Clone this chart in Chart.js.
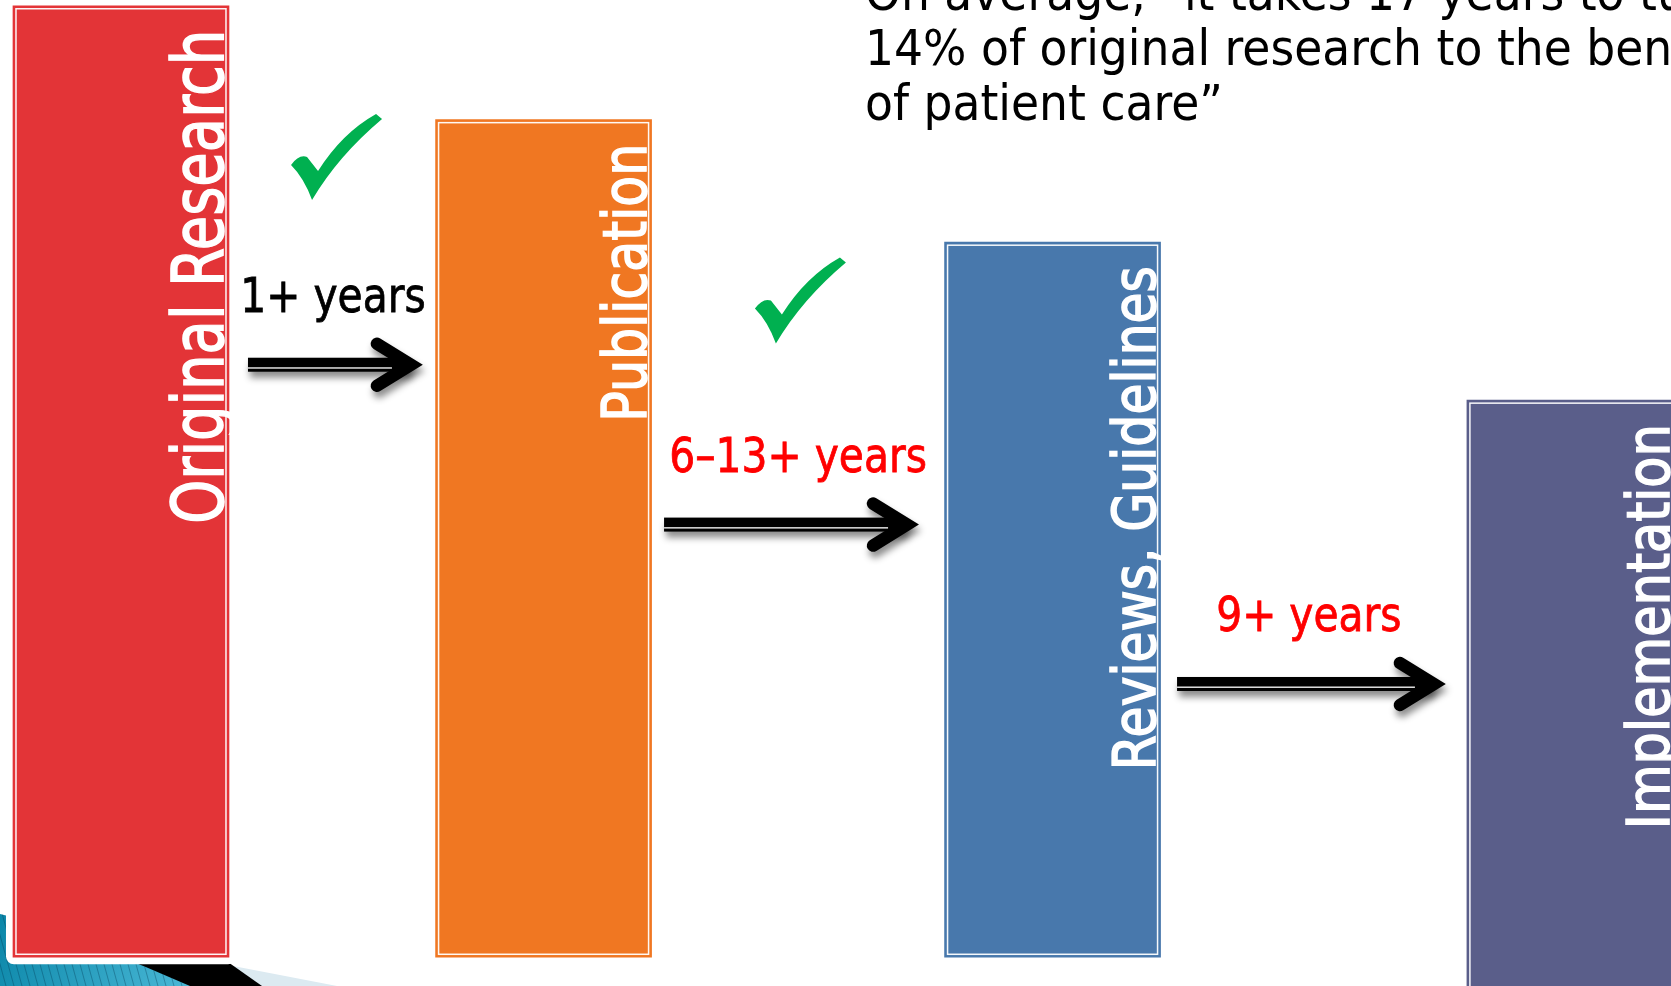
<!DOCTYPE html>
<html>
<head>
    <meta charset="utf-8">
    <title>Research to Practice Timeline</title>
    <script src="https://cdn.jsdelivr.net/npm/chart.js@4.4.0/dist/chart.umd.min.js"></script>
    <style>
        html, body { margin: 0; padding: 0; background: #fff; overflow: hidden; }
        #timeline { display: block; }
    </style>
</head>
<body>
<canvas id="timeline" width="1671" height="986"></canvas>
<script>
// stages of the pipeline, left to right
const stages = ['Original Research', 'Publication', 'Reviews, Guidelines', 'Implementation'];
const stagePos = [7.24, 32.53, 62.99, 94.25];   // % across the slide
const stageHeight = [99.4, 87.5, 74.7, 58.2];
const stageBase = [0, 0, 0, -4];                // last box runs off the bottom

// lag between consecutive stages
const gapLabels = ['1+ years', '6\u201313+ years', '9+ years'];
const gapLabelPos = [19.93, 47.76, 78.33];
const gapFrom = [14.84, 39.74, 70.44];
const gapTo = [25.37, 55.06, 86.59];
const gapLevel = [61.9, 45.2, 28.55];
const checkPos = [20.11, 47.87, null];          // null = no tick
const checkLevel = [83.6, 68.6, null];

const quoteLines = [
    'On average, \u201cit takes 17 years to turn',
    '14% of original research to the benefit',
    'of patient care\u201d'
];

const stageColors = ['#E33437', '#F07722', '#4878AC', '#5A5E8A'];
const gapColors = ['#000000', '#FF0000', '#FF0000'];
const labelSize = [72, 61, 58, 58];
const labelLen = [494, 278, 504, 405];

function boxOf(bar) {
    const p = bar.getProps(['x', 'y', 'base', 'width'], true);
    const top = Math.min(p.y, p.base), bottom = Math.max(p.y, p.base);
    return { left: p.x - p.width / 2, right: p.x + p.width / 2, top, bottom, width: p.width, height: bottom - top };
}

function drawSwoosh(ctx, h) {
    // corner ribbon of the slide template
    ctx.fillStyle = '#DCEAF1';
    ctx.beginPath();
    ctx.moveTo(0, h - 46); ctx.lineTo(150, h - 36); ctx.lineTo(337, h); ctx.lineTo(0, h);
    ctx.fill();
    ctx.fillStyle = '#000';
    ctx.beginPath();
    ctx.moveTo(0, h - 36); ctx.lineTo(218, h - 31); ctx.lineTo(262, h); ctx.lineTo(0, h);
    ctx.fill();
    const g = ctx.createLinearGradient(0, h - 80, 190, h);
    g.addColorStop(0, '#0A86A8');
    g.addColorStop(1, '#4AB8D6');
    ctx.save();
    ctx.beginPath();
    ctx.moveTo(0, h - 72); ctx.lineTo(8, h - 70);
    ctx.quadraticCurveTo(100, h - 40, 190, h); ctx.lineTo(0, h);
    ctx.closePath();
    ctx.fillStyle = g;
    ctx.fill();
    ctx.clip();
    ctx.strokeStyle = 'rgba(0,55,80,0.35)';
    ctx.lineWidth = 1;
    for (let x = -40; x < 200; x += 8) {
        ctx.beginPath();
        ctx.moveTo(x, h - 80); ctx.lineTo(x + 22, h);
        ctx.stroke();
    }
    ctx.restore();
}

function drawArrow(ctx, x0, x1, y) {
    ctx.save();
    ctx.shadowColor = 'rgba(0,0,0,0.45)';
    ctx.shadowBlur = 7;
    ctx.shadowOffsetX = 2;
    ctx.shadowOffsetY = 6;
    ctx.fillStyle = '#000';
    ctx.fillRect(x0, y - 7, x1 - x0 - 14, 14);
    const tip = x1 - 13;
    ctx.strokeStyle = '#000';
    ctx.lineWidth = 12.5;
    ctx.lineCap = 'round';
    ctx.lineJoin = 'miter';
    ctx.beginPath();
    ctx.moveTo(tip - 34, y - 21);
    ctx.lineTo(tip, y);
    ctx.lineTo(tip - 34, y + 21);
    ctx.stroke();
    ctx.restore();
    // thin light rule through the shaft
    ctx.fillStyle = 'rgba(235,235,235,0.95)';
    ctx.fillRect(x0, y + 2.5, x1 - x0 - 32, 1.5);
}

function drawCheck(ctx, cx, cy) {
    ctx.save();
    ctx.translate(cx - 46, cy - 43);
    ctx.fillStyle = '#00B050';
    ctx.beginPath();
    ctx.moveTo(1, 51);
    ctx.quadraticCurveTo(9, 40, 17, 43);
    ctx.lineTo(28, 57);
    ctx.quadraticCurveTo(52, 19, 86, 0);
    ctx.lineTo(92, 5);
    ctx.quadraticCurveTo(48, 42, 22, 86);
    ctx.quadraticCurveTo(14, 64, 1, 51);
    ctx.closePath();
    ctx.fill();
    ctx.restore();
}

const slideDecor = {
    id: 'slideDecor',
    beforeDraw(chart) {
        const ctx = chart.ctx;
        ctx.save();
        ctx.fillStyle = '#fff';
        ctx.fillRect(0, 0, chart.width, chart.height);
        drawSwoosh(ctx, chart.height);
        ctx.restore();
    },
    beforeDatasetsDraw(chart) {
        // white halo round each box
        const ctx = chart.ctx;
        ctx.save();
        ctx.fillStyle = '#fff';
        chart.getDatasetMeta(0).data.forEach(bar => {
            const r = boxOf(bar);
            ctx.beginPath();
            ctx.roundRect(r.left - 7, r.top - 7, r.width + 14, r.height + 14, 8);
            ctx.fill();
        });
        ctx.restore();
    },
    afterDatasetsDraw(chart) {
        const ctx = chart.ctx;
        const bars = chart.getDatasetMeta(0).data;
        const xScale = chart.scales.x, yScale = chart.scales.y;

        bars.forEach((bar, i) => {
            const r = boxOf(bar);
            ctx.save();
            ctx.strokeStyle = 'rgba(255,255,255,0.95)';
            ctx.lineWidth = 1.5;
            ctx.strokeRect(r.left + 3, r.top + 3, r.width - 6, r.height - 6);

            // stage name, reading upwards along the right edge
            ctx.font = labelSize[i] + 'px "DejaVu Sans"';
            const sx = labelLen[i] / ctx.measureText(stages[i]).width;
            ctx.translate(Math.min(r.right - 6, chart.width - 2), r.top + 24);
            ctx.rotate(-Math.PI / 2);
            ctx.scale(sx, 1);
            ctx.textAlign = 'right';
            ctx.textBaseline = 'alphabetic';
            ctx.fillStyle = '#fff';
            ctx.strokeStyle = '#fff';
            ctx.lineWidth = 1.6;
            ctx.fillText(stages[i], 0, 0);
            ctx.strokeText(stages[i], 0, 0);
            ctx.restore();
        });

        gapLabels.forEach((label, i) => {
            const x0 = xScale.getPixelForValue(gapFrom[i]);
            const x1 = xScale.getPixelForValue(gapTo[i]);
            const y = yScale.getPixelForValue(gapLevel[i]);
            drawArrow(ctx, x0, x1, y);

            ctx.save();
            ctx.font = '48px "DejaVu Sans"';
            ctx.fillStyle = gapColors[i];
            ctx.strokeStyle = gapColors[i];
            ctx.lineWidth = 0.8;
            ctx.textAlign = 'center';
            ctx.translate(xScale.getPixelForValue(gapLabelPos[i]), y - 53);
            ctx.scale(0.85, 1);
            ctx.fillText(label, 0, 0);
            ctx.strokeText(label, 0, 0);
            ctx.restore();

            if (checkPos[i] !== null) {
                drawCheck(ctx, xScale.getPixelForValue(checkPos[i]), yScale.getPixelForValue(checkLevel[i]));
            }
        });

        // quotation, top right
        ctx.save();
        ctx.font = '50px "DejaVu Sans"';
        ctx.fillStyle = '#000';
        const qs = 358 / ctx.measureText(quoteLines[2]).width;
        quoteLines.forEach((line, k) => {
            ctx.save();
            ctx.translate(865, 10 + k * 55);
            ctx.scale(qs, 1);
            ctx.fillText(line, 0, 0);
            ctx.restore();
        });
        ctx.restore();
    }
};

new Chart(document.getElementById('timeline'), {
    type: 'bar',
    data: {
        labels: stages,
        datasets: [{
            data: stages.map((s, i) => ({ x: stagePos[i], y: [stageBase[i], stageHeight[i]] })),
            backgroundColor: stageColors,
            borderWidth: 0,
            barThickness: 216
        }]
    },
    options: {
        responsive: false,
        animation: false,
        events: [],
        layout: { padding: 0 },
        scales: {
            x: { type: 'linear', min: 0, max: 100, offset: false, display: false },
            y: { min: -3, max: 100, display: false }
        },
        plugins: {
            legend: { display: false },
            tooltip: { enabled: false }
        }
    },
    plugins: [slideDecor]
});
</script>
</body>
</html>
